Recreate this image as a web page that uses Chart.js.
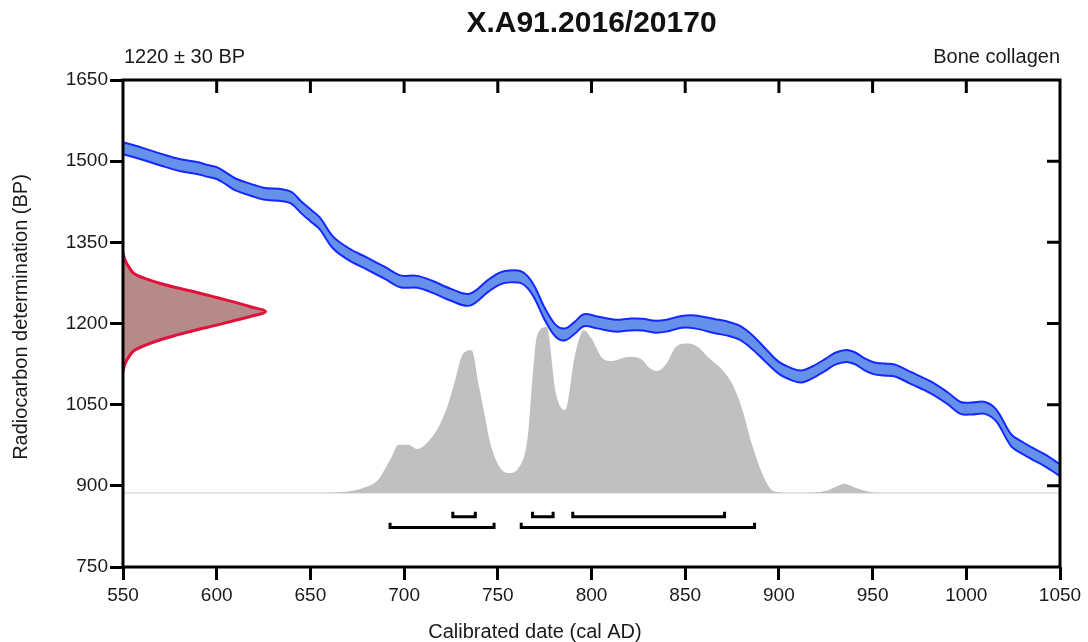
<!DOCTYPE html>
<html>
<head>
<meta charset="utf-8">
<script src="https://cdn.jsdelivr.net/npm/chart.js@4.4.1/dist/chart.umd.min.js"></script>
<style>
  html, body { margin: 0; padding: 0; background: #fff; }
  #wrap { width: 1088px; height: 642px; }
</style>
</head>
<body>
<div id="wrap"><canvas id="grafica"></canvas></div>
<script>
const fontFamily = '"Liberation Sans", Arial, sans-serif';

const chartTitle = 'X.A91.2016/20170';
const leftNote = '1220 ± 30 BP';
const rightNote = 'Bone collagen';
const xTitle = 'Calibrated date (cal AD)';
const yTitle = 'Radiocarbon determination (BP)';

// axis ticks
const xTicks = [550, 600, 650, 700, 750, 800, 850, 900, 950, 1000, 1050];
const yTicks = [750, 900, 1050, 1200, 1350, 1500, 1650];

// calibration curve (centre and 1 sigma)
const curveYears = [550, 560, 570, 580, 590, 595, 600, 605, 610, 620, 625, 635, 640, 645, 650, 655, 662, 670, 680, 690,
  698, 707, 715, 725, 735, 745, 751, 756, 762, 766, 770, 775, 781, 786, 791, 796, 803, 813, 820, 827,
  834, 840, 848, 855, 866, 872, 879, 886, 893, 900, 907, 912, 918, 925, 930, 936, 941, 946, 951, 956,
  962, 970, 981, 990, 997, 1003, 1010, 1016, 1024, 1030, 1035, 1042, 1050];
const curveBP = [1524, 1514, 1503, 1493, 1487, 1482, 1478, 1468, 1457, 1445, 1440, 1437, 1432, 1415, 1400, 1385, 1350, 1329, 1311, 1293,
  1278, 1277, 1268, 1253, 1244, 1270, 1283, 1287, 1286, 1276, 1255, 1218, 1186, 1180, 1192, 1206, 1202, 1196, 1198, 1198,
  1194, 1196, 1203, 1203, 1195, 1191, 1183, 1165, 1141, 1118, 1106, 1102, 1110, 1124, 1135, 1140, 1135, 1124, 1117, 1115,
  1113, 1100, 1082, 1062, 1044, 1043, 1044, 1030, 984, 970, 960, 947, 929];
const curveErr = [11, 11, 11, 11, 11, 11, 11, 11, 11, 11, 11, 11, 11, 11, 11, 11, 11, 11, 11, 11,
  11, 11, 11, 11, 11, 11, 11, 11, 11, 11, 11, 11, 11, 11, 11, 11, 11, 11, 11, 11,
  11, 11, 11, 12, 13, 13, 13, 13, 12, 11, 11, 11, 11, 11, 11, 11, 11, 11, 11, 11,
  11, 11, 11, 11, 11, 11, 11, 11, 11, 11, 11, 11, 11];

// radiocarbon date 1220 +- 30 drawn along the y axis
const dateBP = [1330, 1318, 1305, 1292, 1283, 1274, 1265, 1256, 1248, 1240, 1231, 1222,
  1213, 1205, 1197, 1188, 1179, 1170, 1160, 1150, 1138, 1125, 1112];
const dateYears = [550, 551, 553, 556, 562, 570, 580, 591, 600, 609, 618, 626,
  618, 609, 600, 589, 579, 570, 562, 556, 553, 551, 550];

// calibrated probability (relative height)
const densityYears = [550, 655, 662, 671, 678, 686, 693, 697, 702, 707, 712, 718, 723, 727, 731, 736, 740, 743, 746, 751,
  756, 761, 766, 768, 771, 776, 781, 786, 791, 796, 800, 806, 811, 820, 826, 831, 835, 840, 845, 851,
  856, 863, 870, 875, 880, 886, 891, 896, 900, 906, 918, 926, 931, 935, 940, 948, 958, 1050];
const densityValues = [0, 0, 0.003, 0.01, 0.03, 0.078, 0.21, 0.29, 0.29, 0.265, 0.30, 0.39, 0.52, 0.67, 0.83, 0.86, 0.64, 0.47, 0.30, 0.157,
  0.12, 0.15, 0.34, 0.62, 0.95, 1.0, 0.6, 0.5, 0.82, 0.98, 0.93, 0.81, 0.795, 0.82, 0.81, 0.753, 0.735, 0.78, 0.88, 0.90,
  0.886, 0.81, 0.74, 0.66, 0.52, 0.28, 0.12, 0.02, 0.005, 0, 0.003, 0.015, 0.04, 0.055, 0.035, 0.008, 0, 0];

// highest posterior density ranges
const range68 = [[726, 738], [768.5, 779.5], [790, 871]];
const range95 = [[692.5, 748], [762.5, 887]];
const row68BP = 843;
const row95BP = 823;
const bracketTick = 9;

function bracketPoints(ranges, rowY) {
    const pts = [];
    ranges.forEach(([a, b]) => {
        pts.push({ x: a, y: rowY + bracketTick }, { x: a, y: rowY }, { x: b, y: rowY }, { x: b, y: rowY + bracketTick });
        pts.push({ x: b, y: null });
    });
    return pts;
}

const lowerBand = curveYears.map((x, i) => ({ x, y: curveBP[i] - curveErr[i] }));
const upperBand = curveYears.map((x, i) => ({ x, y: curveBP[i] + curveErr[i] }));

const textPlugin = {
    id: 'textos',
    afterDraw(chart) {
        const ctx = chart.ctx;
        const area = chart.chartArea;
        ctx.save();
        ctx.fillStyle = '#1a1a1a';
        ctx.font = '20px ' + fontFamily;
        ctx.textBaseline = 'middle';
        ctx.textAlign = 'left';
        ctx.fillText(leftNote, area.left + 1, 57);
        ctx.textAlign = 'right';
        ctx.fillText(rightNote, area.right, 57);
        ctx.textAlign = 'center';
        ctx.fillText(xTitle, 535, 632);
        ctx.translate(21, 317);
        ctx.rotate(-Math.PI / 2);
        ctx.fillText(yTitle, 0, 0);
        ctx.restore();
    }
};

const framePlugin = {
    id: 'marco',
    afterDatasetsDraw(chart) {
        const ctx = chart.ctx;
        const { left, right, top, bottom } = chart.chartArea;
        const xs = chart.scales.x;
        const ys = chart.scales.y;
        ctx.save();
        ctx.strokeStyle = '#000';
        ctx.lineWidth = 3;
        ctx.strokeRect(left, top, right - left, bottom - top);
        ctx.beginPath();
        xTicks.slice(1, -1).forEach(v => {
            const px = xs.getPixelForValue(v);
            ctx.moveTo(px, top);
            ctx.lineTo(px, top + 13);
        });
        yTicks.slice(1, -1).forEach(v => {
            const py = ys.getPixelForValue(v);
            ctx.moveTo(right, py);
            ctx.lineTo(right - 13, py);
        });
        ctx.stroke();
        ctx.restore();
    }
};

new Chart(document.getElementById('grafica'), {
    type: 'line',
    data: {
        datasets: [
            {
                data: bracketPoints(range68, row68BP),
                borderColor: '#000', borderWidth: 3, pointRadius: 0, fill: false,
                borderJoinStyle: 'miter', spanGaps: false
            },
            {
                data: bracketPoints(range95, row95BP),
                borderColor: '#000', borderWidth: 3, pointRadius: 0, fill: false,
                borderJoinStyle: 'miter', spanGaps: false
            },
            {
                data: dateYears.map((x, i) => ({ x, y: dateBP[i] })),
                borderColor: '#e0123c', borderWidth: 3, backgroundColor: '#b78a8a',
                fill: 'shape', tension: 0.4, pointRadius: 0
            },
            {
                data: lowerBand,
                borderColor: '#1428ff', borderWidth: 2, pointRadius: 0, fill: false, tension: 0.35
            },
            {
                data: upperBand,
                borderColor: '#1428ff', borderWidth: 2, pointRadius: 0, tension: 0.35,
                fill: '-1', backgroundColor: '#6591ea'
            },
            {
                data: densityYears.map((x, i) => ({ x, y: densityValues[i] })),
                yAxisID: 'yProb', borderWidth: 0, pointRadius: 0,
                backgroundColor: '#c0c0c0', fill: { value: 0 }, cubicInterpolationMode: 'monotone'
            },
            {
                data: [{ x: xTicks[0], y: 0 }, { x: xTicks[xTicks.length - 1], y: 0 }],
                yAxisID: 'yProb', borderColor: '#e6e6e6', borderWidth: 2, pointRadius: 0, fill: false
            }
        ]
    },
    options: {
        responsive: true,
        maintainAspectRatio: false,
        animation: false,
        events: [],
        layout: { padding: { left: 0, right: 28, top: 0, bottom: 0 } },
        plugins: {
            legend: { display: false },
            tooltip: { enabled: false },
            title: {
                display: true,
                text: chartTitle,
                fullSize: false,
                color: '#111',
                font: { family: fontFamily, size: 30, weight: 'bold' },
                padding: { top: 6, bottom: 38 }
            }
        },
        scales: {
            x: {
                type: 'linear',
                min: xTicks[0],
                max: xTicks[xTicks.length - 1],
                afterBuildTicks: scale => { scale.ticks = xTicks.map(v => ({ value: v })); },
                afterFit: scale => { scale.height = 75; },
                ticks: {
                    color: '#1a1a1a', font: { family: fontFamily, size: 19 },
                    padding: 4, maxRotation: 0, autoSkip: false,
                    callback: v => String(v)
                },
                grid: {
                    drawOnChartArea: false, drawTicks: true, tickLength: 13,
                    tickWidth: 3, tickColor: '#000'
                },
                border: { display: false }
            },
            y: {
                type: 'linear',
                min: yTicks[0],
                max: yTicks[yTicks.length - 1],
                afterBuildTicks: scale => { scale.ticks = yTicks.map(v => ({ value: v })); },
                afterFit: scale => { scale.width = 123; },
                ticks: {
                    color: '#1a1a1a', font: { family: fontFamily, size: 19 },
                    padding: 2,
                    callback: v => String(v)
                },
                grid: {
                    drawOnChartArea: false, drawTicks: true, tickLength: 13,
                    tickWidth: 3, tickColor: '#000'
                },
                border: { display: false }
            },
            yProb: {
                type: 'linear',
                display: false,
                min: -0.446,
                max: 2.488
            }
        }
    },
    plugins: [textPlugin, framePlugin]
});
</script>
</body>
</html>
